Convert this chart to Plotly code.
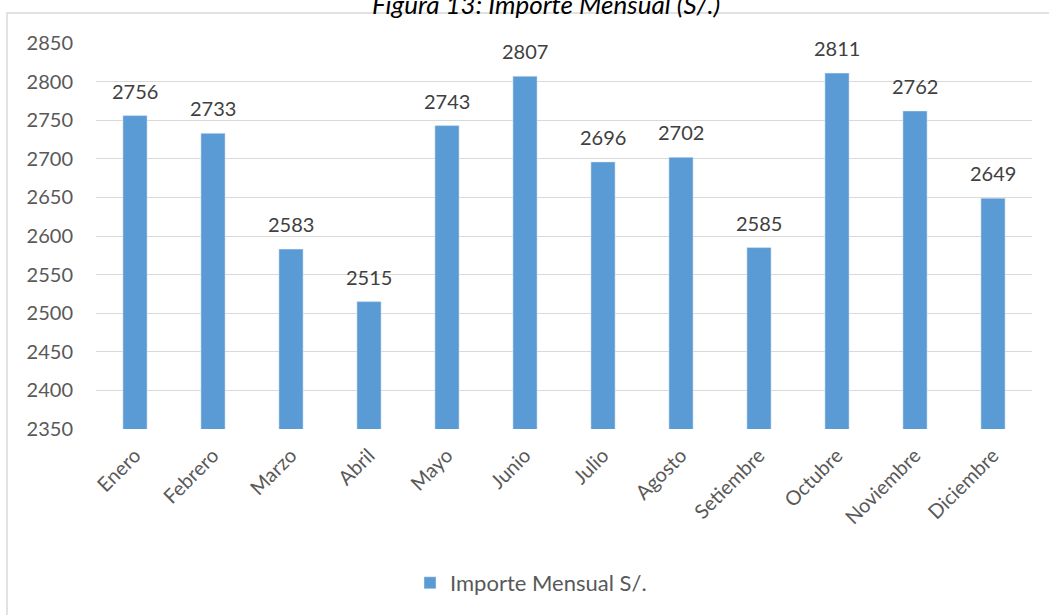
import plotly.graph_objects as go

months = ["Enero", "Febrero", "Marzo", "Abril", "Mayo", "Junio", "Julio",
          "Agosto", "Setiembre", "Octubre", "Noviembre", "Diciembre"]
importe = [2756, 2733, 2583, 2515, 2743, 2807, 2696, 2702, 2585, 2811, 2762, 2649]
series_name = "Importe Mensual S/."
title_text = "Figura 13: Importe Mensual (S/.)"

FONT = "Lato, 'Open Sans', sans-serif"
W, H = 1049, 615
ML, MR, MT, MB = 96, 17, 43, 185
PW = W - ML - MR
PH = H - MT - MB

fig = go.Figure()
fig.add_trace(go.Bar(
    x=months, y=importe, name=series_name,
    marker=dict(color="#5b9bd5"),
    showlegend=True,
))

for m, v in zip(months, importe):
    fig.add_annotation(x=m, y=v, xref="x", yref="y", text=str(v),
                       showarrow=False, yanchor="bottom", yshift=11,
                       font=dict(family=FONT, size=20, color="#404040"))

def px_x(p):
    return (p - ML) / PW

def px_y(p):
    return 1 - (p - MT) / PH

fig.add_shape(type="rect", xref="paper", yref="paper",
              x0=px_x(7), x1=px_x(1060), y0=px_y(630), y1=px_y(13),
              line=dict(color="#d9d9d9", width=1.5), fillcolor="rgba(0,0,0,0)",
              layer="below")

fig.add_annotation(text=title_text, xref="paper", yref="paper",
                   x=px_x(546), y=1, xanchor="center", yanchor="bottom",
                   yshift=MT - 22, showarrow=False,
                   font=dict(family=FONT, size=26, color="#000000", style="italic"))

fig.update_layout(
    width=W, height=H,
    margin=dict(l=ML, r=MR, t=MT, b=MB),
    paper_bgcolor="white", plot_bgcolor="white",
    bargap=0.69,
    font=dict(family=FONT, color="#595959"),
    showlegend=True,
    legend=dict(orientation="h", x=px_x(531), xanchor="center",
                y=px_y(583), yanchor="middle",
                font=dict(family=FONT, size=22, color="#595959")),
    xaxis=dict(tickangle=-45, showgrid=False, showline=False,
               tickfont=dict(family=FONT, size=20, color="#595959"),
               ticks="", ticklabelstandoff=10),
    yaxis=dict(range=[2350, 2850], dtick=50, tick0=2350, showgrid=True,
               gridcolor="#d9d9d9", gridwidth=1, zeroline=False,
               showline=False, ticks="", ticklabelstandoff=22,
               tickfont=dict(family=FONT, size=20, color="#595959")),
)

fig.write_html("out.html", config={"displayModeBar": False},
               post_script="document.body.style.margin='0';")
